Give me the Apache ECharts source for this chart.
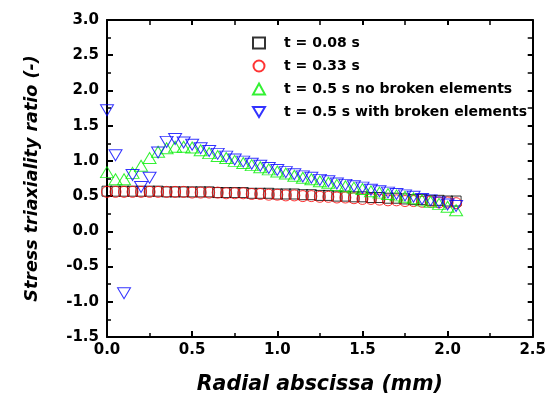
<!DOCTYPE html>
<html>
<head>
<meta charset="utf-8">
<script src="https://cdn.jsdelivr.net/npm/echarts@6/dist/echarts.min.js"></script>
<style>
html,body{margin:0;padding:0;background:#fff;}
#chart{width:549px;height:401px;}
</style>
</head>
<body>
<div id="chart"></div>
<script>
var xValues = [0,0.05,0.1,0.15,0.2,0.25,0.3,0.35,0.4,0.45,0.5,0.55,0.6,0.65,0.7,0.75,0.8,0.85,0.9,0.95,1.0,1.05,1.1,1.15,1.2,1.25,1.3,1.35,1.4,1.45,1.5,1.55,1.6,1.65,1.7,1.75,1.8,1.85,1.9,1.95,2.0,2.05];
var t008 = [0.57,0.57,0.57,0.57,0.57,0.57,0.57,0.56,0.56,0.56,
            0.56,0.56,0.56,0.55,0.55,0.55,0.55,0.54,0.54,0.54,
            0.53,0.53,0.53,0.52,0.52,0.51,0.51,0.50,0.50,0.49,
            0.49,0.48,0.48,0.47,0.47,0.46,0.45,0.45,0.44,0.44,
            0.43,0.43];
var t033 = [0.56,0.56,0.56,0.56,0.56,0.56,0.56,0.56,0.56,0.56,
            0.55,0.55,0.55,0.55,0.54,0.54,0.54,0.53,0.53,0.52,
            0.52,0.51,0.51,0.50,0.50,0.49,0.49,0.48,0.48,0.47,
            0.46,0.46,0.45,0.44,0.44,0.43,0.43,0.42,0.42,0.41,
            0.41,0.40];
var t05NoBroken = [0.84,0.74,0.74,0.83,0.93,1.04,1.13,1.18,1.20,1.20,
            1.19,1.15,1.11,1.07,1.04,1.00,0.97,0.94,0.91,0.88,
            0.85,0.82,0.79,0.76,0.74,0.71,0.69,0.66,0.64,0.62,
            0.60,0.57,0.55,0.53,0.51,0.49,0.47,0.44,0.42,0.39,
            0.35,0.30];
var t05Broken = [1.72,1.08,-0.88,0.80,0.63,0.76,1.12,1.27,1.31,1.26,
            1.23,1.18,1.14,1.10,1.06,1.02,0.99,0.96,0.93,0.90,
            0.87,0.84,0.81,0.78,0.76,0.73,0.71,0.68,0.66,0.64,
            0.62,0.59,0.57,0.55,0.53,0.51,0.49,0.46,0.44,0.41,
            0.38,0.36];
var seriesNames = ['t = 0.08 s','t = 0.33 s','t = 0.5 s no broken elements','t = 0.5 s with broken elements'];
var xTicks = ['0.0','0.5','1.0','1.5','2.0','2.5'];
var yTicks = ['-1.5','-1.0','-0.5','0.0','0.5','1.0','1.5','2.0','2.5','3.0'];

function pairs(ys){ return xValues.map(function(x,i){ return [x, ys[i]]; }); }

var FONT = 'DejaVu Sans';
var DOWN_TRI = 'path://M0,0 L26,0 L13,22 Z';
var chart = echarts.init(document.getElementById('chart'), null, {renderer:'canvas'});
var axisLine = {show:true, onZero:false, lineStyle:{color:'#000', width:2}};
var option = {
  backgroundColor:'#fff',
  animation:false,
  grid:{left:107, right:15, top:20, bottom:64},
  legend:{
    orient:'vertical', left:247, top:31,
    itemWidth:12, itemHeight:11, itemGap:9,
    data:seriesNames,
    textStyle:{fontFamily:FONT, fontWeight:'bold', fontSize:14, color:'#000', lineHeight:12, padding:[0,0,0,14]}
  },
  xAxis:[{
    type:'value', min:0, max:2.5, interval:0.5, position:'bottom',
    name:'Radial abscissa (mm)', nameLocation:'middle', nameGap:38,
    nameTextStyle:{fontFamily:FONT, fontWeight:'bold', fontStyle:'italic', fontSize:20.5, color:'#000'},
    axisLine:axisLine,
    axisTick:{show:true, inside:true, length:6, lineStyle:{color:'#000', width:2}},
    minorTick:{show:true, splitNumber:2, length:4, lineStyle:{color:'#000', width:1.5}},
    axisLabel:{fontFamily:FONT, fontWeight:'bold', fontSize:15, color:'#000', margin:6,
      formatter:function(v){ return xTicks[Math.round(v/0.5)]; }},
    splitLine:{show:false}
  },{
    type:'value', min:0, max:2.5, interval:0.5, position:'top',
    axisLine:axisLine,
    axisTick:{show:true, inside:true, length:5, lineStyle:{color:'#000', width:2}},
    minorTick:{show:true, splitNumber:2, length:5, lineStyle:{color:'#000', width:1.5}},
    axisLabel:{show:false}, splitLine:{show:false}
  }],
  yAxis:[{
    type:'value', min:-1.5, max:3.0, interval:0.5, position:'left',
    name:'Stress triaxiality ratio (-)', nameLocation:'middle', nameGap:66,
    nameTextStyle:{fontFamily:FONT, fontWeight:'bold', fontStyle:'italic', fontSize:17.5, color:'#000'},
    axisLine:axisLine,
    axisTick:{show:true, inside:true, length:6, lineStyle:{color:'#000', width:2}},
    minorTick:{show:true, splitNumber:2, length:4, lineStyle:{color:'#000', width:1.5}},
    axisLabel:{fontFamily:FONT, fontWeight:'bold', fontSize:15, color:'#000', margin:8,
      formatter:function(v){ return yTicks[Math.round((v+1.5)/0.5)]; }},
    splitLine:{show:false}
  },{
    type:'value', min:-1.5, max:3.0, interval:0.5, position:'right',
    axisLine:axisLine,
    axisTick:{show:true, inside:true, length:5, lineStyle:{color:'#000', width:2}},
    minorTick:{show:true, splitNumber:2, length:5, lineStyle:{color:'#000', width:1.5}},
    axisLabel:{show:false}, splitLine:{show:false}
  }],
  series:[
    {name:seriesNames[0], type:'scatter', data:pairs(t008), symbol:'rect', symbolSize:10,
      itemStyle:{color:'rgba(0,0,0,0)', borderColor:'#000', borderWidth:1}},
    {name:seriesNames[1], type:'scatter', data:pairs(t033), symbol:'circle', symbolSize:11,
      itemStyle:{color:'rgba(0,0,0,0)', borderColor:'#ff0000', borderWidth:1}},
    {name:seriesNames[2], type:'scatter', data:pairs(t05NoBroken), symbol:'triangle', symbolSize:[13,11],
      itemStyle:{color:'rgba(0,0,0,0)', borderColor:'#00ee00', borderWidth:1}},
    {name:seriesNames[3], type:'scatter', data:pairs(t05Broken), symbol:DOWN_TRI, symbolSize:[13,11],
      itemStyle:{color:'rgba(0,0,0,0)', borderColor:'#0000ff', borderWidth:1}}
  ]
};
chart.setOption(option);
</script>
</body>
</html>
